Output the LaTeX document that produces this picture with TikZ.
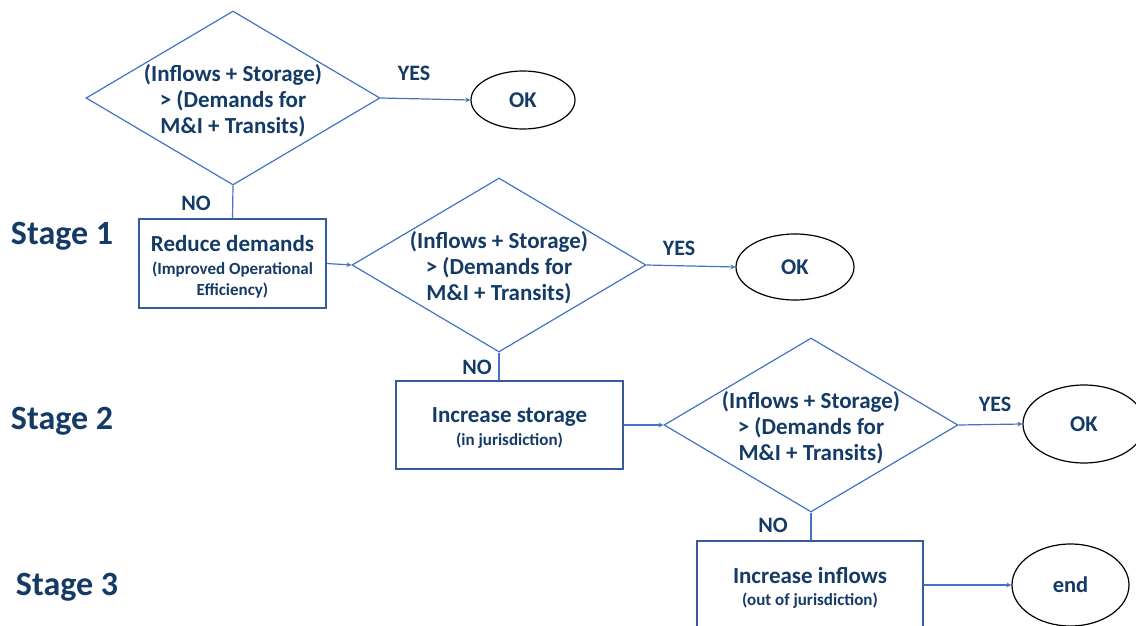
\documentclass[tikz,border=0pt]{standalone}
\usepackage{fontspec}
\setmainfont{Carlito}
\usetikzlibrary{shapes.geometric}
\definecolor{txtblue}{RGB}{20,58,102}
\definecolor{lineblue}{RGB}{68,114,196}
\newcommand{\waterbalance}{(Inflows + Storage)\\> (Demands for\\M\&I + Transits)}
\newcommand{\bigline}{\fontsize{23}{24}\selectfont}

\begin{document}
\begin{tikzpicture}[x=1pt, y=-1pt, line width=1.2pt,
    check/.style={shape=diamond, draw=lineblue, minimum width=294pt, minimum height=174pt, inner sep=0pt},
    cond/.style={align=center, text=txtblue, yshift=-3pt, font=\fontsize{23}{26}\selectfont\bfseries},
    action/.style={draw=lineblue!80!black, inner sep=0pt},
    todo/.style={align=center, text=txtblue, yshift=-3pt, font=\fontsize{17}{21}\selectfont\bfseries},
    okay/.style={shape=ellipse, draw=black, inner sep=0pt, text=txtblue, font=\fontsize{22.5}{24}\selectfont\bfseries},
    answer/.style={text=txtblue, font=\fontsize{22}{24}\selectfont\bfseries},
    stage/.style={anchor=west, text=txtblue, font=\fontsize{34}{38}\selectfont\bfseries}]
    \useasboundingbox (0,0) rectangle (1136,626);

    % Stufen
    \node[stage](s1)at(7,236){Stage 1};
    \node[stage](s2)at(7,421){Stage 2};
    \node[stage](s3)at(12,587){Stage 3};

    % Abfragen
    \node[check, label={[cond]center:\waterbalance}](q1)at(233,98){};
    \node[check, label={[cond]center:\waterbalance}](q2)at(499,265){};
    \node[check, label={[cond]center:\waterbalance}](q3)at(811,425){};

    % Massnahmen
    \node[action, minimum width=187pt, minimum height=89pt,
        label={[todo]center:\bigline Reduce demands\\[2pt] (Improved Operational\\Efficiency)}](reduce)at(232.5,263.5){};
    \node[action, minimum width=227pt, minimum height=88pt,
        label={[todo]center:\bigline Increase storage\\[2pt] (in jurisdiction)}](storage)at(509.5,425){};
    \node[action, minimum width=226pt, minimum height=88pt,
        label={[todo]center:\bigline Increase inflows\\[1pt] (out of jurisdiction)}](inflows)at(810,585){};

    % Ergebnisse
    \node[okay, minimum width=104pt, minimum height=58pt](ok1)at(523,100){OK};
    \node[okay, minimum width=118pt, minimum height=66pt](ok2)at(795,267){OK};
    \node[okay, minimum width=122pt, minimum height=78pt](ok3)at(1084,424){OK};
    \node[okay, minimum width=117pt, minimum height=82pt](end)at(1070.5,585){end};

    % YES / NO
    \node[answer](y1)at(414,73){YES};
    \node[answer](y2)at(679,248){YES};
    \node[answer](y3)at(995,404){YES};
    \node[answer](n1)at(196,203){NO};
    \node[answer](n2)at(477,367){NO};
    \node[answer](n3)at(773,525){NO};

    % Verbindungen
    \path[draw, lineblue, -stealth](q1.east)to(ok1.west);
    \path[draw, lineblue](q1.south)to(reduce.north);
    \path[draw, lineblue, -stealth](reduce.east)to(q2.west);
    \path[draw, lineblue, -stealth](q2.east)to(ok2.west);
    \path[draw, lineblue](q2.south)to(q2.south |- storage.north);
    \path[draw, lineblue, -stealth](storage.east)to(q3.west);
    \path[draw, lineblue, -stealth](q3.east)to(ok3.west);
    \path[draw, lineblue](q3.south)to(q3.south |- inflows.north);
    \path[draw, lineblue, -stealth](inflows.east)to(end.west);
\end{tikzpicture}
\end{document}
